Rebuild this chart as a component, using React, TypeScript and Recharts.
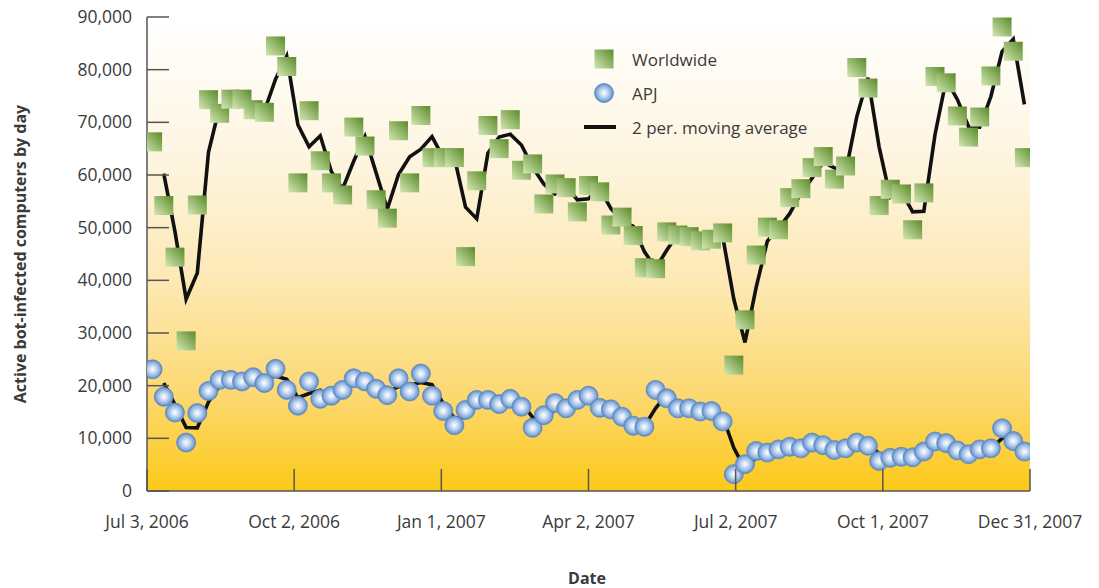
import React from "react";
import { ComposedChart, Line, Scatter, XAxis, YAxis, CartesianGrid } from "recharts";

// weekly counts, Jul 2006 - Dec 2007
const worldwide = [
  66300, 54200, 44400, 28500, 54300, 74300, 71700, 74400, 74400, 72400,
  71900, 84500, 80600, 58500, 72200, 62700, 58500, 56200, 69100, 65500,
  55300, 51800, 68400, 58500, 71300, 63300, 63300, 63300, 44500, 58900,
  69400, 65000, 70500, 60900, 62100, 54500, 58300, 57600, 53000, 58000,
  56800, 50500, 52000, 48500, 42400, 42200, 49200, 48600, 48300, 47500,
  47800, 49000, 23900, 32500, 44800, 50100, 49600, 55700, 57400, 61400,
  63500, 59200, 61700, 80400, 76500, 54200, 57300, 56400, 49600, 56600,
  78700, 77500, 71200, 67200, 71000, 78800, 88100, 83500, 63300,
];

const apj = [
  23100, 17900, 14900, 9200, 14800, 19000, 21100, 21100, 20800, 21600,
  20500, 23200, 19200, 16200, 20800, 17500, 18100, 19200, 21400, 20800,
  19400, 18200, 21400, 18900, 22300, 18100, 15200, 12500, 15400, 17300,
  17300, 16500, 17500, 16000, 12000, 14400, 16700, 15700, 17300, 18100,
  15800, 15500, 14100, 12400, 12200, 19200, 17600, 15700, 15700, 15100,
  15200, 13200, 3200, 5100, 7600, 7300, 7900, 8400, 8100, 9200,
  8700, 7800, 8100, 9200, 8600, 5700, 6300, 6500, 6400, 7500,
  9400, 9100, 7700, 7000, 7900, 8100, 11900, 9500, 7500,
];

const dateLabels = [
  "Jul 3, 2006",
  "Oct 2, 2006",
  "Jan 1, 2007",
  "Apr 2, 2007",
  "Jul 2, 2007",
  "Oct 1, 2007",
  "Dec 31, 2007",
];

const yTicks = [0, 10000, 20000, 30000, 40000, 50000, 60000, 70000, 80000, 90000];

const FONT = "'Open Sans', 'Noto Sans', sans-serif";
const TEXT = "#3a3a3a";
const AXIS = "#555";

// 2 period moving average (Excel style, starts at 2nd point)
const movAvg = (arr: number[]) =>
  arr.map((v, i) => (i === 0 ? null : (arr[i - 1] + v) / 2));

const wwAvg = movAvg(worldwide);
const apjAvg = movAvg(apj);

const chartData = worldwide.map((v, i) => ({
  idx: i,
  ww: v,
  apj: apj[i],
  wwAvg: wwAvg[i],
  apjAvg: apjAvg[i],
}));

const n = worldwide.length;
const xTicks = dateLabels.map((_, k) => -0.5 + (k * n) / (dateLabels.length - 1));

const YTick = (props: any) => {
  const { x, y, payload } = props;
  return (
    <g>
      <line x1={x} x2={x + 22} y1={y} y2={y} stroke={AXIS} strokeWidth={1.5} />
      <text
        x={x - 15}
        y={y}
        dy="0.35em"
        textAnchor="end"
        fill={TEXT}
        fontSize={17.5}
        fontFamily={FONT}
      >
        {payload.value.toLocaleString("en-US")}
      </text>
    </g>
  );
};

const XTick = (props: any) => {
  const { x, y, index } = props;
  return (
    <g>
      <line x1={x} x2={x} y1={y} y2={y - 22} stroke={AXIS} strokeWidth={1.5} />
      <text
        x={x}
        y={y + 31}
        dy="0.35em"
        textAnchor="middle"
        fill={TEXT}
        fontSize={17.5}
        fontFamily={FONT}
      >
        {dateLabels[index]}
      </text>
    </g>
  );
};

const SquareDot = (props: any) => {
  const { cx, cy } = props;
  if (cx == null || cy == null) return null;
  return <rect x={cx - 9.5} y={cy - 9.5} width={19} height={19} fill="url(#sqGrad)" />;
};

const BallDot = (props: any) => {
  const { cx, cy } = props;
  if (cx == null || cy == null) return null;
  return <circle cx={cx} cy={cy} r={9.5} fill="url(#ballGrad)" stroke="#5d88c0" strokeWidth={0.8} />;
};

function LegendBox() {
  const row = { display: "flex", alignItems: "center", height: 34 } as const;
  const label = { marginLeft: 16, fontSize: 17, color: TEXT, fontFamily: FONT };
  return (
    <div style={{ position: "absolute", left: 576, top: 34 }}>
      <div style={row}>
        <svg width={32} height={22}>
          <rect x={10.5} y={1.5} width={19} height={19} fill="url(#sqGrad)" />
        </svg>
        <span style={label}>Worldwide</span>
      </div>
      <div style={row}>
        <svg width={32} height={22}>
          <circle cx={20} cy={11} r={9.5} fill="url(#ballGrad)" stroke="#5d88c0" strokeWidth={0.8} />
        </svg>
        <span style={label}>APJ</span>
      </div>
      <div style={row}>
        <svg width={32} height={22}>
          <line x1={0} x2={32} y1={11} y2={11} stroke="#111" strokeWidth={4} />
        </svg>
        <span style={label}>2 per. moving average</span>
      </div>
    </div>
  );
}

export default function App() {
  return (
    <div style={{ position: "relative", width: 1091, height: 580, fontFamily: FONT }}>
      <ComposedChart
        width={1091}
        height={580}
        data={chartData}
        margin={{ top: 9, right: 69, bottom: 37, left: 39 }}
        style={{ overflow: "visible" }}
      >
        <defs>
          <linearGradient id="bgGrad" x1="0" y1="0" x2="0" y2="1">
            <stop offset="0" stopColor="#ffffff" />
            <stop offset="0.3" stopColor="#fef5e0" />
            <stop offset="0.55" stopColor="#fde9b6" />
            <stop offset="0.8" stopColor="#fcd870" />
            <stop offset="1" stopColor="#fcc918" />
          </linearGradient>
          <linearGradient id="sqGrad" x1="1" y1="0" x2="0" y2="1">
            <stop offset="0" stopColor="#5a8a28" />
            <stop offset="1" stopColor="#d3e8b4" />
          </linearGradient>
          <radialGradient id="ballGrad" cx="0.5" cy="0.5" r="0.5">
            <stop offset="0" stopColor="#ffffff" />
            <stop offset="0.3" stopColor="#d5e4f6" />
            <stop offset="0.75" stopColor="#8cb0de" />
            <stop offset="1" stopColor="#5585c2" />
          </radialGradient>
        </defs>
        <CartesianGrid horizontal={false} vertical={false} fill="url(#bgGrad)" stroke="none" />
        <XAxis
          dataKey="idx"
          type="number"
          domain={[-0.5, n - 0.5]}
          ticks={xTicks}
          interval={0}
          allowDataOverflow
          height={60}
          tickSize={0}
          tickMargin={0}
          tick={<XTick />}
          axisLine={{ stroke: AXIS, strokeWidth: 1.5 }}
          tickLine={false}
        />
        <YAxis
          type="number"
          domain={[0, 90000]}
          ticks={yTicks}
          interval={0}
          width={100}
          tickSize={0}
          tickMargin={0}
          tick={<YTick />}
          axisLine={{ stroke: AXIS, strokeWidth: 1.5 }}
          tickLine={false}
        />
        <Line
          dataKey="wwAvg"
          type="linear"
          stroke="#111"
          strokeWidth={3.6}
          strokeLinejoin="miter"
          dot={false}
          activeDot={false}
          isAnimationActive={false}
        />
        <Line
          dataKey="apjAvg"
          type="linear"
          stroke="#111"
          strokeWidth={3.6}
          strokeLinejoin="miter"
          dot={false}
          activeDot={false}
          isAnimationActive={false}
        />
        <Scatter dataKey="ww" shape={<SquareDot />} isAnimationActive={false} />
        <Scatter dataKey="apj" shape={<BallDot />} isAnimationActive={false} />
      </ComposedChart>
      <LegendBox />
      <div
        style={{
          position: "absolute",
          left: 12,
          top: 246,
          transform: "translate(-50%, -50%) rotate(-90deg)",
          whiteSpace: "nowrap",
          fontSize: 16,
          fontWeight: 700,
          color: TEXT,
        }}
      >
        Active bot-infected computers by day
      </div>
      <div
        style={{
          position: "absolute",
          left: 579,
          top: 570,
          transform: "translate(-50%, -50%)",
          fontSize: 16,
          fontWeight: 700,
          color: TEXT,
        }}
      >
        Date
      </div>
    </div>
  );
}
